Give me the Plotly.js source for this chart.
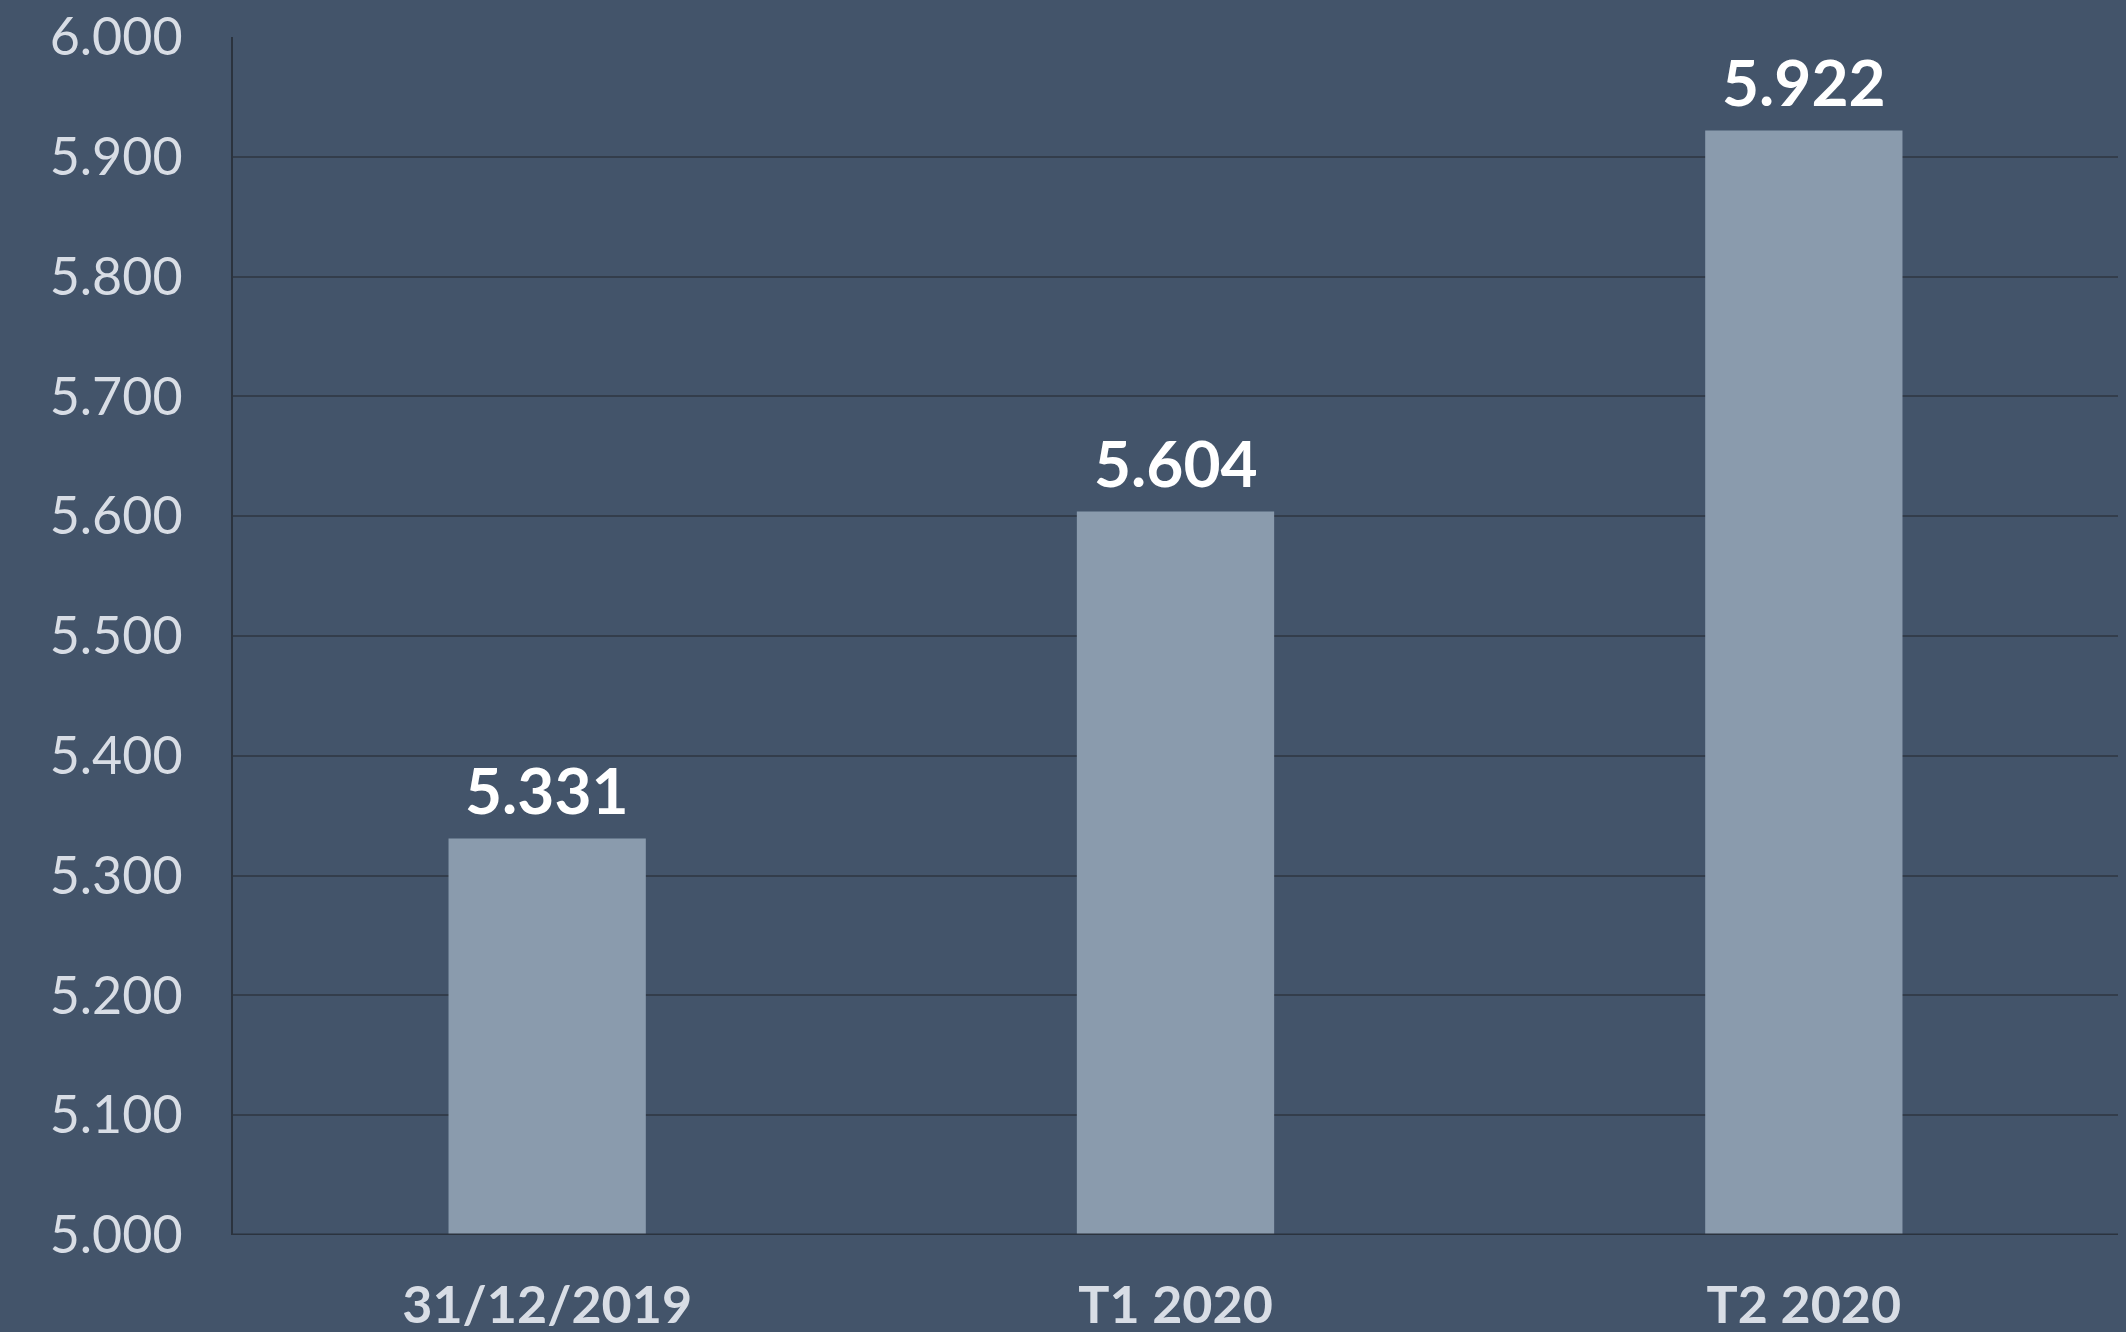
<!DOCTYPE html>
<html>
<head>
<meta charset="utf-8">
<script src="https://cdn.plot.ly/plotly-3.0.1.min.js"></script>
<style>
html,body{margin:0;padding:0;background:#43546a;}
#chart{width:2126px;height:1332px;}
</style>
</head>
<body>
<div id="chart"></div>
<script>
const categories = ["31/12/2019", "T1 2020", "T2 2020"];
const values = [5331, 5604, 5922];
const valueLabels = ["5.331", "5.604", "5.922"];

const bg = "#43546a";

const trace = {
  type: "bar",
  x: categories,
  y: values,
  marker: {color: "#8a9bad", line: {width: 0}},
  hoverinfo: "none"
};

const annotations = categories.map((c, i) => ({
  x: c, y: values[i], xref: "x", yref: "y",
  text: valueLabels[i], showarrow: false,
  yanchor: "bottom", yshift: 8,
  font: {family: "Lato, sans-serif", size: 64, color: "#ffffff", weight: 700}
}));

const layout = {
  width: 2126, height: 1332,
  paper_bgcolor: bg, plot_bgcolor: bg,
  margin: {l: 233, r: 8, t: 37, b: 97},
  bargap: 0.686,
  showlegend: false,
  separators: ",.",
  xaxis: {
    type: "category",
    showgrid: false,
    showline: false,
    zeroline: false,
    ticks: "",
    ticklabelstandoff: 35,
    tickfont: {family: "Lato, sans-serif", size: 52, color: "#d8dde5", weight: 700}
  },
  yaxis: {
    range: [5000, 6000],
    dtick: 100,
    tick0: 5000,
    tickformat: ",d",
    showgrid: true,
    gridcolor: "#333d4b",
    gridwidth: 2,
    showline: true,
    linecolor: "#2b333e",
    linewidth: 2,
    zeroline: false,
    ticks: "",
    ticklabelstandoff: 38,
    tickfont: {family: "Lato, sans-serif", size: 52, color: "#d8dde5"}
  },
  shapes: [{
    type: "line", xref: "paper", yref: "y", x0: 0, x1: 1, y0: 5000, y1: 5000,
    line: {color: "#2b333e", width: 3}
  }],
  annotations: annotations
};

Plotly.newPlot("chart", [trace], layout, {staticPlot: true, displayModeBar: false});
</script>
</body>
</html>
